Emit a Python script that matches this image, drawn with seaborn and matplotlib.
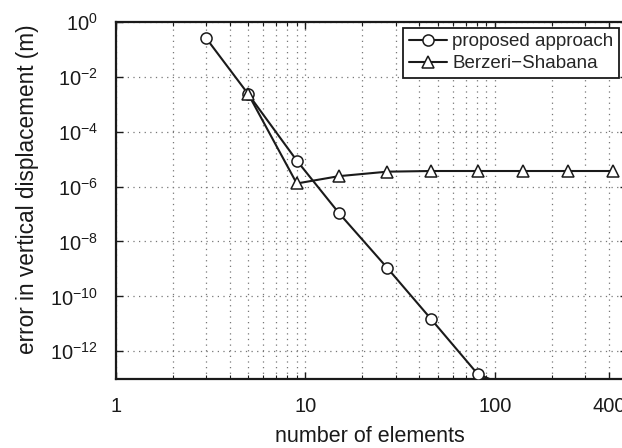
import matplotlib
matplotlib.use("Agg")
import matplotlib.pyplot as plt
import matplotlib.ticker as mticker
import seaborn as sns
import pandas as pd

# data
elements = [3, 5, 9, 15, 27, 46, 81, 140, 243, 420]
proposed = [2.5e-1, 2.3e-3, 8.9e-6, 1.1e-7, 1.1e-9, 1.5e-11, 1.5e-13, 3e-14, 2e-14, 3e-14]
berz_x = [5, 9, 15, 27, 46, 81, 140, 243, 420]
berzeri = [2.3e-3, 1.3e-6, 2.4e-6, 3.5e-6, 3.7e-6, 3.7e-6, 3.7e-6, 3.7e-6, 3.7e-6]
xticks = [1, 10, 100, 400]
xticklabels = ["1", "10", "100", "400"]
yticks_exp = [0, -2, -4, -6, -8, -10, -12]

sns.set_theme(style="white")
plt.rcParams['font.family'] = ['Liberation Sans', 'DejaVu Sans']
plt.rcParams['mathtext.fontset'] = 'custom'
plt.rcParams['mathtext.rm'] = 'Liberation Sans'
plt.rcParams['mathtext.it'] = 'Liberation Sans'

fig = plt.figure(figsize=(6.22, 4.48), dpi=100)
ax = fig.add_axes([0.1865, 0.1547, 0.822, 0.7963])

df1 = pd.DataFrame({"x": elements, "y": proposed})
df2 = pd.DataFrame({"x": berz_x, "y": berzeri})

lc = "#1a1a1a"
sns.lineplot(data=df1, x="x", y="y", ax=ax, color=lc, lw=1.5, marker="o",
             markersize=8, markerfacecolor="white", markeredgecolor=lc,
             markeredgewidth=1.1, label="proposed approach", zorder=3)
sns.lineplot(data=df2, x="x", y="y", ax=ax, color=lc, lw=1.5, marker="^",
             markersize=9, markerfacecolor="white", markeredgecolor=lc,
             markeredgewidth=1.1, label="Berzeri\u2212Shabana", zorder=3)

ax.set_xscale("log")
ax.set_yscale("log")
ax.set_xlim(1, 500)
ax.set_ylim(1e-13, 1)

ax.set_xticks(xticks)
ax.set_xticklabels(xticklabels)
ax.xaxis.set_minor_locator(mticker.LogLocator(base=10, subs=range(2, 10), numticks=20))
ax.xaxis.set_minor_formatter(mticker.NullFormatter())
ax.set_yticks([10.0 ** e for e in yticks_exp])
ax.set_yticklabels([r"$10^{%d}$" % e for e in yticks_exp])
ax.yaxis.set_minor_locator(mticker.NullLocator())

ax.grid(True, which="major", axis="both", color="#777777", linestyle=(0, (1, 3.5)), lw=0.9)
ax.grid(True, which="minor", axis="x", color="#777777", linestyle=(0, (1, 3.5)), lw=0.9)

ax.tick_params(axis="both", which="both", direction="in", top=True, right=True,
               bottom=True, left=True, colors=lc, labelcolor="#1a1a1a")
ax.tick_params(axis="both", which="major", length=5, width=1.0, labelsize=14.5)
ax.tick_params(axis="x", which="major", pad=13)
ax.tick_params(axis="y", which="major", pad=13)
ax.tick_params(axis="x", which="minor", length=3, width=0.8)

for s in ax.spines.values():
    s.set_color(lc)
    s.set_linewidth(1.6)

ax.set_xlabel("number of elements", fontsize=15.5, color="#1a1a1a")
ax.xaxis.set_label_coords(0.497, -0.134)
ax.set_ylabel("error in vertical displacement (m)", fontsize=16.3, color="#1a1a1a")
ax.yaxis.set_label_coords(-0.151, 0.532)

leg = ax.legend(loc="upper right", bbox_to_anchor=(0.995, 1.0), fontsize=13.5,
                frameon=True, fancybox=False, handlelength=2.0, handletextpad=0.3,
                borderpad=0.3, labelspacing=0.25, borderaxespad=0.3)
leg.get_frame().set_edgecolor(lc)
leg.get_frame().set_linewidth(1.3)
leg.get_frame().set_alpha(1)

fig.savefig("out.png", dpi=100)
